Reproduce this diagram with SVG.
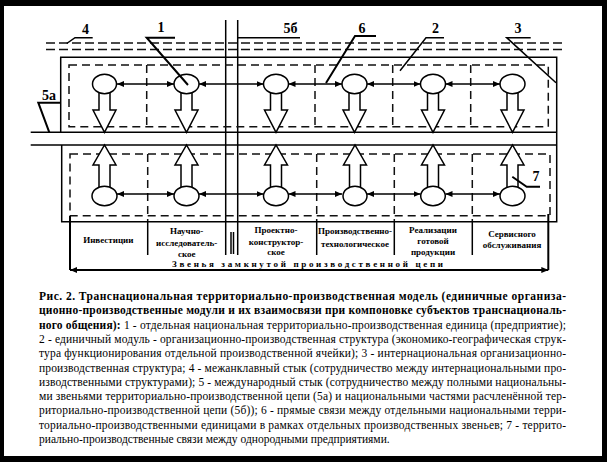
<svg xmlns="http://www.w3.org/2000/svg" width="607" height="462" viewBox="0 0 607 462">
<style>
.s{stroke:#000;stroke-width:1.5;fill:none}
.t{stroke:#000;stroke-width:2;fill:none}
.d{stroke:#111;stroke-width:1.5;fill:none;stroke-dasharray:8 5}
.dd{stroke:#111;stroke-width:1.5;fill:none;stroke-dasharray:9 4}
.e{fill:#fff;stroke:#000;stroke-width:1.5}
.ar{fill:#fff;stroke:#000;stroke-width:1.5;stroke-linejoin:miter}
.lk{stroke:#000;stroke-width:1.6;fill:none;marker-start:url(#ah);marker-end:url(#ah)}
text{font-family:'Liberation Serif','DejaVu Serif',serif}
.num{font-weight:bold;font-size:14px;text-anchor:middle}
.lb{font-weight:bold;font-size:9px;text-anchor:middle}
.cap{font-size:11.5px}
.b{font-weight:bold}
</style>
<defs>
<marker id="ah" markerUnits="userSpaceOnUse" markerWidth="7" markerHeight="6" viewBox="0 0 7 6" refX="7" refY="3" orient="auto-start-reverse">
<path d="M0,0 L7,3 L0,6 z" fill="#000"/>
</marker>
</defs>
<rect x="0" y="0" width="607" height="462" fill="#000"/>
<rect x="4" y="6" width="598" height="450" fill="#fff"/>

<g id="frame">
<line class="dd" x1="46" y1="43" x2="562" y2="43"/>
<line class="dd" x1="46" y1="49.5" x2="562" y2="49.5"/>
<path class="s" d="M60.7,132.3 V57.3 H556.7 V221.7 H61.7 V145"/>
<line class="s" x1="30.7" y1="132.3" x2="556.7" y2="132.3"/>
<line class="s" x1="30.7" y1="145" x2="556.7" y2="145"/>
<line class="s" x1="225.7" y1="20" x2="225.7" y2="255"/>
<line class="s" x1="237.7" y1="20" x2="237.7" y2="255"/>
<line class="s" stroke-width="1" x1="231" y1="232" x2="231" y2="254"/>
<line class="s" stroke-width="1" x1="233.5" y1="232" x2="233.5" y2="254"/>
<rect class="d" x="69" y="65" width="479.3" height="61.7"/>
<line class="d" x1="146.7" y1="65" x2="146.7" y2="126.7"/>
<line class="d" x1="315" y1="65" x2="315" y2="126.7"/>
<line class="d" x1="392.7" y1="65" x2="392.7" y2="126.7"/>
<line class="d" x1="470.7" y1="65" x2="470.7" y2="126.7"/>
<rect class="d" x="70" y="154" width="480" height="61.7" stroke="#666"/>
<line class="d" x1="147.7" y1="154" x2="147.7" y2="221"/>
<line class="d" x1="316.7" y1="154" x2="316.7" y2="221"/>
<line class="d" x1="394.3" y1="154" x2="394.3" y2="221"/>
<line class="d" x1="472.3" y1="154" x2="472.3" y2="221"/>
<line class="s" x1="147.7" y1="221.7" x2="147.7" y2="255"/>
<line class="s" x1="316.7" y1="221.7" x2="316.7" y2="255"/>
<line class="s" x1="394.3" y1="221.7" x2="394.3" y2="255"/>
<line class="s" x1="472.3" y1="221.7" x2="472.3" y2="255"/>
</g>

<g id="connectors">
<line class="lk" x1="117" y1="84" x2="174" y2="84"/>
<line class="lk" x1="199" y1="84" x2="263.5" y2="84"/>
<line class="lk" x1="288.5" y1="84" x2="342" y2="84"/>
<line class="lk" x1="367" y1="84" x2="420.5" y2="84"/>
<line class="lk" x1="445.5" y1="84" x2="500" y2="84"/>
<line class="lk" x1="117" y1="194" x2="174" y2="194"/>
<line class="lk" x1="199" y1="194" x2="263.5" y2="194"/>
<line class="lk" x1="288.5" y1="194" x2="342" y2="194"/>
<line class="lk" x1="367" y1="194" x2="420.5" y2="194"/>
<line class="lk" x1="445.5" y1="194" x2="500" y2="194"/>
<path class="t" d="M70,216 V270"/>
<path class="t" d="M548.3,214 V270"/>
<line class="t" x1="70" y1="270" x2="548.3" y2="270" style="marker-start:url(#ah);marker-end:url(#ah)"/>
</g>

<g id="unit-top-1"><path class="ar" d="M99,93 V110 H93 L104.5,132.3 L116,110 H110 V93"/><ellipse class="e" cx="104.5" cy="84" rx="12" ry="9.7"/></g>
<g id="unit-top-2"><path class="ar" d="M181,93 V110 H175 L186.5,132.3 L198,110 H192 V93"/><ellipse class="e" cx="186.5" cy="84" rx="12.5" ry="9.7"/></g>
<g id="unit-top-3"><path class="ar" d="M270.5,93 V110 H264.5 L276,132.3 L287.5,110 H281.5 V93"/><ellipse class="e" cx="276" cy="84" rx="12.5" ry="9.7"/></g>
<g id="unit-top-4"><path class="ar" d="M349,93 V110 H343 L354.5,132.3 L366,110 H360 V93"/><ellipse class="e" cx="354.5" cy="84" rx="12.5" ry="9.7"/></g>
<g id="unit-top-5"><path class="ar" d="M427.5,93 V110 H421.5 L433,132.3 L444.5,110 H438.5 V93"/><ellipse class="e" cx="433" cy="84" rx="12.5" ry="9.7"/></g>
<g id="unit-top-6"><path class="ar" d="M507,93 V110 H501 L512.5,132.3 L524,110 H518 V93"/><ellipse class="e" cx="512.5" cy="84" rx="12.5" ry="9.7"/></g>

<g id="unit-bot-1"><path class="ar" d="M99,187 V165 H93 L104.5,145 L116,165 H110 V187"/><ellipse class="e" cx="104.5" cy="196" rx="12.5" ry="9.7"/></g>
<g id="unit-bot-2"><path class="ar" d="M181,187 V165 H175 L186.5,145 L198,165 H192 V187"/><ellipse class="e" cx="186.5" cy="196" rx="12.5" ry="9.7"/></g>
<g id="unit-bot-3"><path class="ar" d="M270.5,187 V165 H264.5 L276,145 L287.5,165 H281.5 V187"/><ellipse class="e" cx="276" cy="196" rx="12.5" ry="9.7"/></g>
<g id="unit-bot-4"><path class="ar" d="M349.5,187 V165 H343.5 L355,145 L366.5,165 H360.5 V187"/><ellipse class="e" cx="355" cy="196" rx="12" ry="9.7"/></g>
<g id="unit-bot-5"><path class="ar" d="M427.5,187 V165 H421.5 L433,145 L444.5,165 H438.5 V187"/><ellipse class="e" cx="433" cy="196" rx="12.3" ry="9.7"/></g>
<g id="unit-bot-6"><path class="ar" d="M507,187 V165 H501 L512.5,145 L524,165 H518 V187"/><ellipse class="e" cx="512.5" cy="196" rx="12.5" ry="9.7"/></g>

<g id="callouts">
<path class="s" d="M66.7,43.5 L75,37.7 H92.7"/>
<text class="num" x="85.5" y="34">4</text>
<path class="t" d="M188,85 L146.7,37.7 H175"/>
<text class="num" x="161" y="32">1</text>
<path class="s" d="M237.7,37.7 H300"/>
<text class="num" x="290.5" y="33">5б</text>
<path class="t" d="M326,83 L355,36 H376"/>
<text class="num" x="362" y="32.5">6</text>
<path class="s" d="M400,70.7 L426,37.7 H444"/>
<text class="num" x="435.5" y="33">2</text>
<path class="s" d="M556,82.7 L506.7,37.7 H530.7"/>
<text class="num" x="518" y="33">3</text>
<path class="t" d="M49.3,132.3 L38.3,102.7 H60.7"/>
<text class="num" x="49" y="100">5а</text>
<path class="t" d="M512.3,176.7 L526.7,186.7 H540"/>
<text class="num" x="536" y="181" font-weight="normal" font-size="15">7</text>
</g>

<g id="stage-labels">
<text class="lb" x="108.3" y="243">Инвестиции</text>
<text class="lb" x="186.7" y="233.5">Научно-</text>
<text class="lb" x="186.7" y="245.5">исследователь-</text>
<text class="lb" x="186.7" y="256.5">ское</text>
<text class="lb" x="276" y="233">Проектно-</text>
<text class="lb" x="276" y="244.5">конструктор-</text>
<text class="lb" x="276" y="255">ское</text>
<text class="lb" x="355" y="233.5">Производственно-</text>
<text class="lb" x="355" y="246.5">технологическое</text>
<text class="lb" x="433" y="232.5">Реализации</text>
<text class="lb" x="433" y="243.5">готовой</text>
<text class="lb" x="433" y="255">продукции</text>
<text class="lb" x="512" y="236.5">Сервисного</text>
<text class="lb" x="512" y="248">обслуживания</text>
<text class="lb" x="172" y="266.5" style="text-anchor:start" textLength="271" lengthAdjust="spacing">Звенья замкнутой производственной цепи</text>
</g>

<g id="caption" class="cap">
<text x="39" y="300" class="cap b" textLength="527" lengthAdjust="spacing">Рис. 2.  Транснациональная   территориально-производственная   модель   (единичные организа-</text>
<text x="39" y="314.3" class="cap b" textLength="527" lengthAdjust="spacing">ционно-производственные модули и их взаимосвязи при компоновке субъектов транснациональ-</text>
<text x="39" y="328.6" class="cap" textLength="527" lengthAdjust="spacing"><tspan class="b">ного общения):</tspan> 1 - отдельная национальная территориально-производственная единица (предприятие);</text>
<text x="39" y="342.9" class="cap" textLength="527" lengthAdjust="spacing">2 - единичный модуль - организационно-производственная структура (экономико-географическая струк-</text>
<text x="39" y="357.2" class="cap" textLength="527" lengthAdjust="spacing">тура функционирования отдельной производственной ячейки); 3 - интернациональная организационно-</text>
<text x="39" y="371.5" class="cap" textLength="527" lengthAdjust="spacing">производственная структура; 4 - межанклавный стык (сотрудничество между интернациональными про-</text>
<text x="39" y="385.8" class="cap" textLength="527" lengthAdjust="spacing">изводственными структурами); 5 - международный стык (сотрудничество между полными национальны-</text>
<text x="39" y="400.1" class="cap" textLength="527" lengthAdjust="spacing">ми звеньями территориально-производственной цепи (5а) и национальными частями расчленённой тер-</text>
<text x="39" y="414.4" class="cap" textLength="527" lengthAdjust="spacing">риториально-производственной цепи (5б)); 6 - прямые связи между отдельными национальными терри-</text>
<text x="39" y="428.7" class="cap" textLength="527" lengthAdjust="spacing">ториально-производственными единицами в рамках отдельных производственных звеньев; 7 - террито-</text>
<text x="39" y="443" class="cap">риально-производственные связи между однородными предприятиями.</text>
</g>
</svg>
